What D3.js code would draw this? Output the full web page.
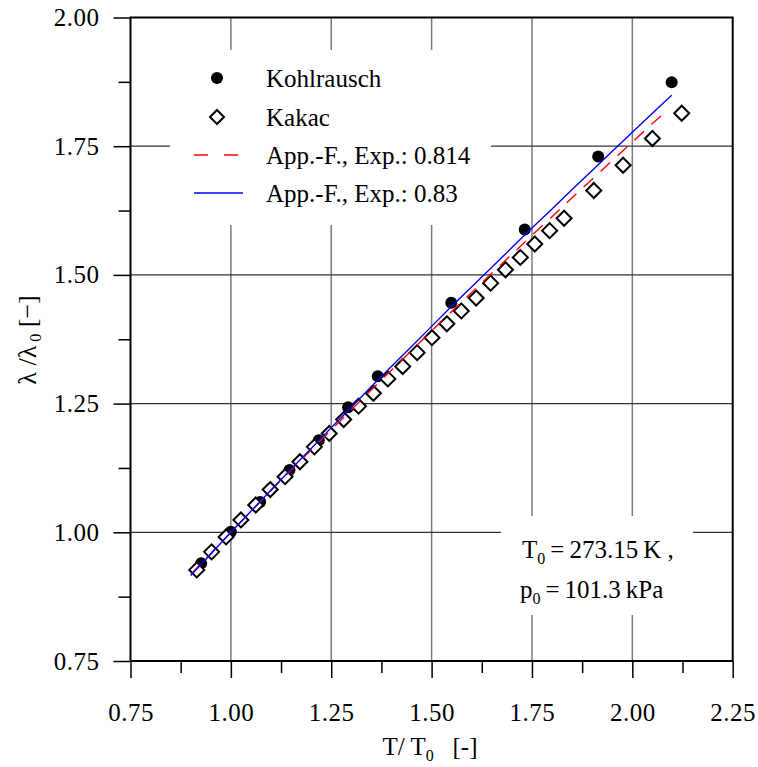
<!DOCTYPE html>
<html><head><meta charset="utf-8">
<script src="https://cdn.jsdelivr.net/npm/d3@7"></script>
<style>
html,body{margin:0;padding:0;background:#fff;}
</style></head>
<body><svg id="c" width="758" height="767"></svg>
<script>
const xTicks = [0.75, 1.00, 1.25, 1.50, 1.75, 2.00, 2.25];
const yTicks = [0.75, 1.00, 1.25, 1.50, 1.75, 2.00];
const xMinor = [0.875, 1.125, 1.375, 1.625, 1.875, 2.125];
const yMinor = [0.875, 1.125, 1.375, 1.625, 1.875];

const kohlX = [0.926, 1.000, 1.073, 1.146, 1.219, 1.292, 1.366, 1.549, 1.732, 1.915, 2.098];
const kohlY = [0.940, 1.001, 1.059, 1.121, 1.179, 1.243, 1.303, 1.446, 1.588, 1.730, 1.874];

const kakacX = [0.915, 0.952, 0.988, 1.025, 1.062, 1.098, 1.135, 1.172, 1.208, 1.245, 1.281, 1.318, 1.355, 1.391, 1.428, 1.464, 1.501, 1.538, 1.574, 1.611, 1.647, 1.684, 1.721, 1.757, 1.794, 1.830, 1.904, 1.977, 2.050, 2.123];
const kakacY = [0.927, 0.962, 0.991, 1.024, 1.053, 1.083, 1.108, 1.137, 1.166, 1.192, 1.219, 1.245, 1.270, 1.298, 1.322, 1.349, 1.378, 1.405, 1.430, 1.455, 1.484, 1.510, 1.534, 1.560, 1.586, 1.610, 1.664, 1.713, 1.765, 1.814];

const fitBlueX = [0.90, 0.95, 1.00, 1.05, 1.10, 1.15, 1.20, 1.25, 1.30, 1.35, 1.40, 1.45, 1.50, 1.55, 1.60, 1.65, 1.70, 1.75, 1.80, 1.85, 1.90, 1.95, 2.00, 2.05, 2.098];
const fitBlueY = [0.916, 0.958, 1.000, 1.041, 1.082, 1.123, 1.163, 1.203, 1.243, 1.283, 1.322, 1.361, 1.400, 1.439, 1.477, 1.515, 1.553, 1.591, 1.628, 1.666, 1.703, 1.740, 1.777, 1.814, 1.849];
const fitRedX = [0.90, 0.95, 1.00, 1.05, 1.10, 1.15, 1.20, 1.25, 1.30, 1.35, 1.40, 1.45, 1.50, 1.55, 1.60, 1.65, 1.70, 1.75, 1.80, 1.85, 1.90, 1.95, 2.00, 2.05, 2.083];
const fitRedY = [0.918, 0.959, 1.000, 1.040, 1.081, 1.121, 1.160, 1.199, 1.238, 1.277, 1.315, 1.353, 1.391, 1.429, 1.466, 1.503, 1.540, 1.577, 1.613, 1.650, 1.686, 1.722, 1.758, 1.794, 1.817];

const legendLabels = ["Kohlrausch", "Kakac", "App.-F., Exp.: 0.814", "App.-F., Exp.: 0.83"];

const FONT = "Liberation Serif, DejaVu Serif, serif";
const svg = d3.select("#c").attr("font-family", FONT);
const L = 130.5, R = 732.7, T = 17.5, B = 661;
const x = d3.scaleLinear().domain([0.75, 2.25]).range([L, R]);
const y = d3.scaleLinear().domain([0.75, 2.00]).range([B, T]);

// grid
const grid = svg.append("g");
grid.selectAll("line.v").data(xTicks.slice(1, -1)).enter().append("line")
  .attr("x1", d => x(d)).attr("x2", d => x(d)).attr("y1", T).attr("y2", B)
  .attr("stroke", "#7a7a7a").attr("stroke-width", 1.5);
grid.selectAll("line.h").data(yTicks.slice(1, -1)).enter().append("line")
  .attr("x1", L).attr("x2", R).attr("y1", d => y(d)).attr("y2", d => y(d))
  .attr("stroke", "#333").attr("stroke-width", 1.2);

// white boxes covering grid
svg.append("rect").attr("x", 170).attr("y", 50).attr("width", 321).attr("height", 175).attr("fill", "#fff");
svg.append("rect").attr("x", 501).attr("y", 516).attr("width", 192).attr("height", 99).attr("fill", "#fff");

// axes
const fmt = d3.format(".2f");
const gx = svg.append("g").attr("transform", `translate(0,${B})`)
  .call(d3.axisBottom(x).tickValues(xTicks).tickSize(17).tickPadding(25).tickFormat(fmt));
const gxm = svg.append("g").attr("transform", `translate(0,${B})`)
  .call(d3.axisBottom(x).tickValues(xMinor).tickSize(12).tickFormat(""));
const gy = svg.append("g").attr("transform", `translate(${L},0)`)
  .call(d3.axisLeft(y).tickValues(yTicks).tickSize(17).tickPadding(14).tickFormat(fmt));
const gym = svg.append("g").attr("transform", `translate(${L},0)`)
  .call(d3.axisLeft(y).tickValues(yMinor).tickSize(12).tickFormat(""));
[gx, gxm, gy, gym].forEach(g => {
  g.attr("font-family", FONT).attr("font-size", 25);
  g.select(".domain").remove();
  g.selectAll(".tick line").attr("stroke", "#000").attr("stroke-width", 1.5);
  g.selectAll("text").attr("fill", "#000").attr("letter-spacing", 0.5);
});
// frame
svg.append("rect").attr("x", L).attr("y", T).attr("width", R - L).attr("height", B - T)
  .attr("fill", "none").attr("stroke", "#000").attr("stroke-width", 2);

// data: Kohlrausch circles
svg.append("g").selectAll("circle").data(kohlX.map((d, i) => [d, kohlY[i]])).enter().append("circle")
  .attr("cx", d => x(d[0])).attr("cy", d => y(d[1])).attr("r", 6).attr("fill", "#000");

// Kakac diamonds
const dia = (cx, cy, s) => `M${cx},${cy - s}L${cx + s},${cy}L${cx},${cy + s}L${cx - s},${cy}Z`;
svg.append("g").selectAll("path").data(kakacX.map((d, i) => [d, kakacY[i]])).enter().append("path")
  .attr("d", d => dia(x(d[0]), y(d[1]), 7.5))
  .attr("fill", "#fff").attr("stroke", "#000").attr("stroke-width", 2);

// fit lines
const line = d3.line().x(d => x(d[0])).y(d => y(d[1]));
svg.append("path").datum(fitRedX.map((d, i) => [d, fitRedY[i]])).attr("d", line)
  .attr("fill", "none").attr("stroke", "#ff0000").attr("stroke-width", 1.4).attr("stroke-dasharray", "13,10");
svg.append("path").datum(fitBlueX.map((d, i) => [d, fitBlueY[i]])).attr("d", line)
  .attr("fill", "none").attr("stroke", "#0000ff").attr("stroke-width", 1.4);

// legend
const lg = svg.append("g").attr("font-size", 25);
const rows = [78, 117, 155, 193];
lg.append("circle").attr("cx", 217).attr("cy", rows[0]).attr("r", 6).attr("fill", "#000");
lg.append("path").attr("d", dia(217, rows[1], 7)).attr("fill", "#fff").attr("stroke", "#000").attr("stroke-width", 2);
lg.append("line").attr("x1", 194).attr("x2", 243).attr("y1", rows[2]).attr("y2", rows[2])
  .attr("stroke", "#ff0000").attr("stroke-width", 1.4).attr("stroke-dasharray", "14,16");
lg.append("line").attr("x1", 194).attr("x2", 243).attr("y1", rows[3]).attr("y2", rows[3])
  .attr("stroke", "#0000ff").attr("stroke-width", 1.4);
lg.selectAll("text").data(legendLabels).enter().append("text")
  .attr("x", 266).attr("y", (d, i) => rows[i] + 9).text(d => d);

// annotation
const a1 = svg.append("text").attr("x", 522).attr("y", 558).attr("font-size", 25);
a1.append("tspan").text("T");
a1.append("tspan").attr("dy", 6).attr("font-size", 16).text("0");
a1.append("tspan").attr("dy", -6).text("\u2009=\u2009273.15\u2009K ,");
const a2 = svg.append("text").attr("x", 520).attr("y", 598).attr("font-size", 25);
a2.append("tspan").text("p");
a2.append("tspan").attr("dy", 6).attr("font-size", 16).text("0");
a2.append("tspan").attr("dy", -6).text("\u2009=\u2009101.3\u2009kPa");

// axis titles
const xt = svg.append("text").attr("x", 430).attr("y", 755).attr("text-anchor", "middle").attr("font-size", 25);
xt.append("tspan").text("T/ T");
xt.append("tspan").attr("dy", 6).attr("font-size", 16).text("0");
xt.append("tspan").attr("dy", -6).text("\u2002 [-]");
const yt = svg.append("text").attr("transform", "translate(36,340) rotate(-90)").attr("text-anchor", "middle").attr("font-size", 26);
yt.append("tspan").text("λ /λ");
yt.append("tspan").attr("dy", 5).attr("font-size", 16).text(" 0");
yt.append("tspan").attr("dy", -5).text(" [−]");
</script></body></html>
